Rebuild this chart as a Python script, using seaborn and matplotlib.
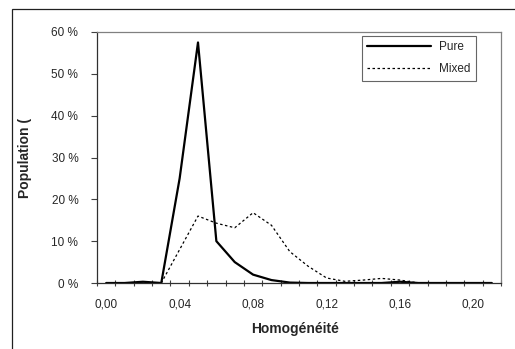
import numpy as np
import pandas as pd
import matplotlib
matplotlib.use("Agg")
import matplotlib.pyplot as plt
import seaborn as sns
from matplotlib.ticker import FixedLocator, FuncFormatter
from matplotlib.patches import Rectangle

# values (percent per homogeneity class)
homog = [0.00, 0.01, 0.02, 0.03, 0.04, 0.05, 0.06, 0.07, 0.08, 0.09, 0.10,
         0.11, 0.12, 0.13, 0.14, 0.15, 0.16, 0.17, 0.18, 0.19, 0.20, 0.21]
pure = [0, 0, 0.3, 0, 25, 57.5, 10, 5, 2, 0.7, 0.1,
        0, 0, 0, 0, 0, 0.3, 0, 0, 0, 0, 0]
mixed = [0, 0, 0, 0, 8, 16, 14.3, 13.2, 16.8, 13.8, 7.5,
         4, 1.2, 0.4, 0.7, 1.1, 0.7, 0, 0, 0, 0, 0]
y_ticks = [0, 10, 20, 30, 40, 50, 60]
x_labels = [0.00, 0.04, 0.08, 0.12, 0.16, 0.20]

df = pd.DataFrame({"Homogénéité": homog, "Pure": pure, "Mixed": mixed})

sns.set_style("white")
plt.rcParams["font.family"] = ["Liberation Sans", "DejaVu Sans"]

fig = plt.figure(figsize=(5.15, 3.49), dpi=100)
ax = fig.add_axes([97 / 515, 66 / 349, 404 / 515, 251 / 349])

# outer chart frame (runs off the right and bottom edges)
fig.patches.append(Rectangle((12 / 515, -0.2), 1.2, 0.2 + 1 - 9 / 349,
                             transform=fig.transFigure, fill=False,
                             edgecolor="#202020", linewidth=0.9))

sns.lineplot(data=df, x="Homogénéité", y="Pure", ax=ax, color="black",
             linewidth=1.6, label="Pure")
sns.lineplot(data=df, x="Homogénéité", y="Mixed", ax=ax, color="black",
             linewidth=0.9, linestyle=(0, (2, 2)), label="Mixed")

ax.set_xlim(-0.005, 0.215)
ax.set_ylim(0, 60)

ax.yaxis.set_major_locator(FixedLocator(y_ticks))
ax.yaxis.set_major_formatter(FuncFormatter(lambda v, p: f"{v:.0f} %"))
ax.xaxis.set_major_locator(FixedLocator(x_labels))
ax.xaxis.set_major_formatter(FuncFormatter(lambda v, p: f"{v:.2f}".replace(".", ",")))
ax.xaxis.set_minor_locator(FixedLocator(np.arange(-0.005, 0.22, 0.01)))

ax.tick_params(axis="y", which="major", direction="out", length=4.5, width=0.8,
               color="#404040", pad=9, labelsize=8.5, left=True)
ax.tick_params(axis="x", which="major", length=0, pad=11, labelsize=8.5)
ax.tick_params(axis="x", which="minor", direction="inout", length=5, width=0.8,
               color="#404040", bottom=True)

for side in ["left", "bottom"]:
    ax.spines[side].set_color("#303030")
    ax.spines[side].set_linewidth(0.9)
for side in ["top", "right"]:
    ax.spines[side].set_color("#808080")
    ax.spines[side].set_linewidth(0.9)

ax.set_xlabel("Homogénéité", fontsize=10, fontweight="bold", va="center")
ax.xaxis.set_label_coords(0.49, -0.183)
ax.set_ylabel("Population (", fontsize=10, fontweight="bold", va="center")
ax.yaxis.set_label_coords(-0.178, 0.5)

leg = ax.legend(loc="upper right", bbox_to_anchor=(0.937, 0.984), fontsize=8.5,
                frameon=True, fancybox=False, shadow=False, handlelength=5.4,
                handletextpad=0.7, labelspacing=0.85, borderpad=0.45,
                borderaxespad=0)
leg.get_frame().set_edgecolor("#404040")
leg.get_frame().set_linewidth(0.8)

fig.savefig("out.png", dpi=100)
